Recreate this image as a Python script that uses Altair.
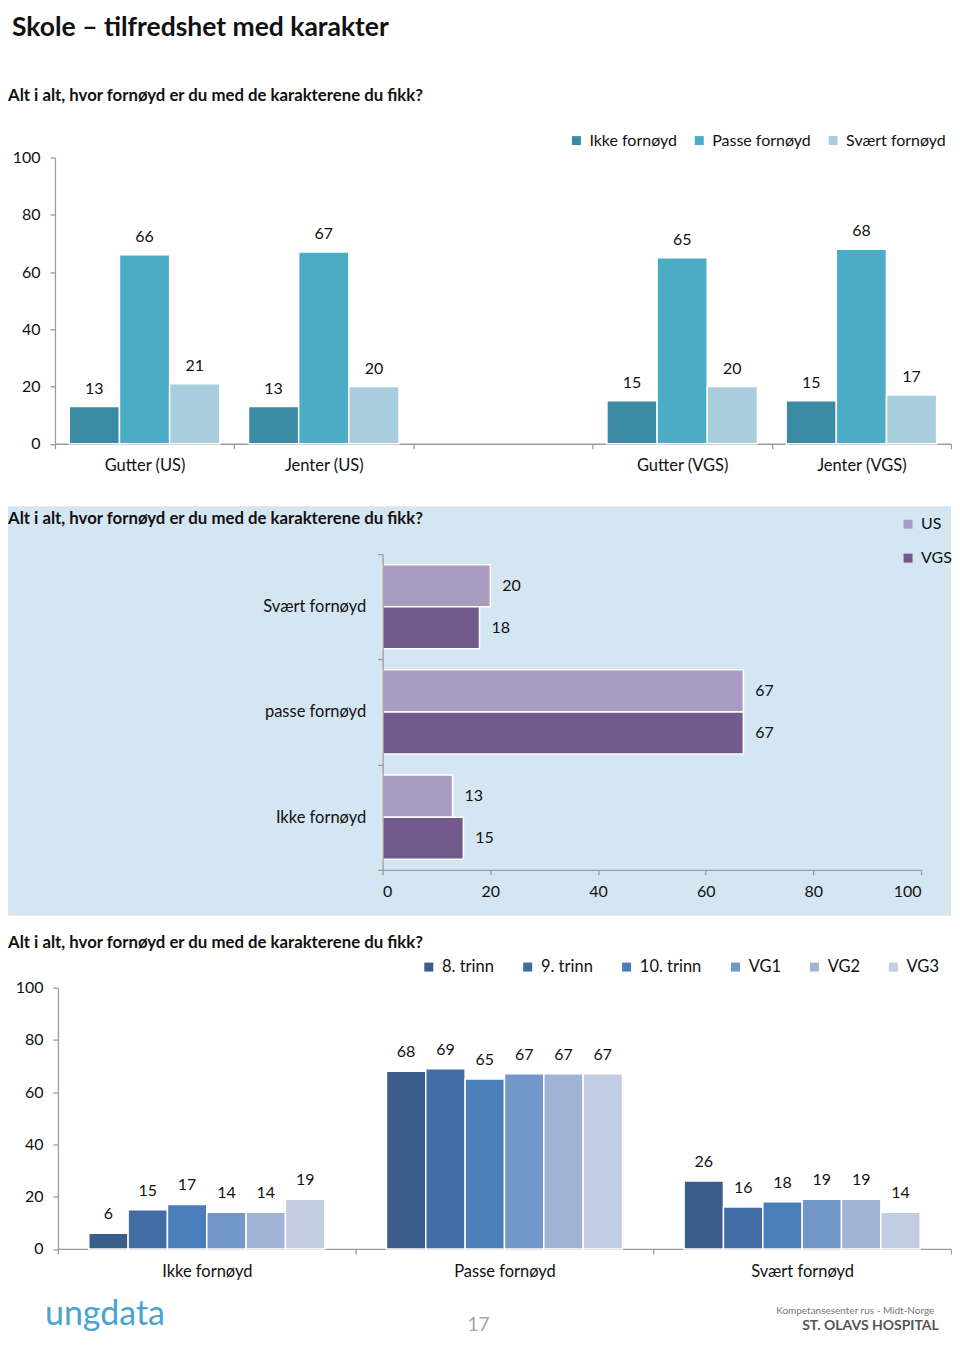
import altair as alt
import pandas as pd

FONT = "Lato"
GRAY = "#9C9C9C"
TXT = "#111111"

# ---------------- data ----------------
title_text = "Skole – tilfredshet med karakter"
question = "Alt i alt, hvor fornøyd er du med de karakterene du fikk?"
page_no = "17"

c1_groups = ["Gutter (US)", "Jenter (US)", "", "Gutter (VGS)", "Jenter (VGS)"]
c1_series = ["Ikke fornøyd", "Passe fornøyd", "Svært fornøyd"]
c1_ikke = [13, 13, None, 15, 15]
c1_passe = [66, 67, None, 65, 68]
c1_svaert = [21, 20, None, 20, 17]
c1_colors = ["#3B8BA5", "#4BACC6", "#A8CEDD"]

c2_cats = ["Svært fornøyd", "passe fornøyd", "Ikke fornøyd"]
c2_series = ["US", "VGS"]
c2_us = [20, 67, 13]
c2_vgs = [18, 67, 15]
c2_colors = ["#A89BBF", "#735A8D"]

c3_cats = ["Ikke fornøyd", "Passe fornøyd", "Svært fornøyd"]
c3_series = ["8. trinn", "9. trinn", "10. trinn", "VG1", "VG2", "VG3"]
c3_ikke = [6, 15, 17, 14, 14, 19]
c3_passe = [68, 69, 65, 67, 67, 67]
c3_svaert = [26, 16, 18, 19, 19, 14]
c3_colors = ["#3B5D8A", "#416DA4", "#4A7EBB", "#7497CA", "#A0B3D5", "#C2CCE3"]

ticks100 = [0, 20, 40, 60, 80, 100]

# ---------------- tables ----------------
rows1 = []
for i, g in enumerate(c1_groups):
    for s, vals in zip(c1_series, [c1_ikke, c1_passe, c1_svaert]):
        if vals[i] is not None:
            rows1.append({"group": g, "series": s, "value": vals[i]})
df1 = pd.DataFrame(rows1)

rows2 = []
for i, c in enumerate(c2_cats):
    for s, vals in zip(c2_series, [c2_us, c2_vgs]):
        rows2.append({"cat": c, "series": s, "value": vals[i]})
df2 = pd.DataFrame(rows2)

rows3 = []
for c, vals in zip(c3_cats, [c3_ikke, c3_passe, c3_svaert]):
    for s, v in zip(c3_series, vals):
        rows3.append({"cat": c, "series": s, "value": v})
df3 = pd.DataFrame(rows3)


def label(text, x, y, size=16.5, bold=False, color=TXT, align="left", baseline="middle"):
    return alt.Chart(pd.DataFrame({"t": [text]})).mark_text(
        align=align, baseline=baseline, fontSize=size,
        fontWeight="bold" if bold else "normal", color=color, font=FONT
    ).encode(text="t:N", x=alt.value(x), y=alt.value(y))


W = 897

# ---------------- chart 1 ----------------
H1 = 286.5
step1 = W / len(c1_groups)
pad1 = 0.08 * step1
x1 = alt.X("group:N", scale=alt.Scale(domain=c1_groups, paddingInner=0, paddingOuter=0),
           axis=alt.Axis(title=None, labelAngle=0, tickBand="extent", tickSize=5,
                         labelPadding=9, labelFontSize=16.5))
xo1 = alt.XOffset("series:N", scale=alt.Scale(domain=c1_series, paddingInner=0, paddingOuter=0,
                                              range=[pad1, step1 - pad1]))
y1 = alt.Y("value:Q", scale=alt.Scale(domain=[0, 100]),
           axis=alt.Axis(title=None, values=ticks100, grid=False, tickSize=5,
                         labelPadding=10, labelFontSize=16))
col1 = alt.Color("series:N", scale=alt.Scale(domain=c1_series, range=c1_colors),
                 legend=alt.Legend(title=None, orient="none", legendX=514, legendY=-25,
                                   direction="horizontal", columnPadding=14, labelFontSize=16))
base1 = alt.Chart(df1).encode(x=x1, xOffset=xo1, y=y1)
bars1 = base1.mark_bar(stroke="white", strokeWidth=1.5).encode(color=col1)
text1 = base1.mark_text(dy=-18, baseline="middle", fontSize=16, color=TXT).encode(text="value:Q")
# transparent frame marking the top edge of the page area
top_edge = alt.Chart(pd.DataFrame({"a": [0]})).mark_rect(opacity=0).encode(
    x=alt.value(-47), x2=alt.value(-40), y=alt.value(-148.5), y2=alt.value(-140))
c1 = alt.layer(
    top_edge, bars1, text1,
    label(title_text, -43, -143, size=26.5, bold=True, baseline="top"),
    label(question, -47, -61.5, size=16.8, bold=True),
).properties(width=W, height=H1)

# ---------------- chart 2 ----------------
H2 = 316
step2 = H2 / len(c2_cats)
pad2 = 0.1 * step2
y2 = alt.Y("cat:N", scale=alt.Scale(domain=c2_cats, paddingInner=0, paddingOuter=0),
           axis=alt.Axis(title=None, tickBand="extent", tickSize=5, labelPadding=12,
                         labelFontSize=16.5, offset=-328, zindex=1))
yo2 = alt.YOffset("series:N", scale=alt.Scale(domain=c2_series, paddingInner=0, paddingOuter=0,
                                              range=[pad2, step2 - pad2]))
x2 = alt.X("value:Q", scale=alt.Scale(domain=[0, 100], range=[328, 867]),
           axis=alt.Axis(title=None, values=ticks100, grid=False, tickSize=5,
                         labelPadding=9, labelFontSize=16, zindex=1))
col2 = alt.Color("series:N", scale=alt.Scale(domain=c2_series, range=c2_colors),
                 legend=alt.Legend(title=None, orient="none", legendX=846, legendY=-38,
                                   direction="vertical", rowPadding=18, labelFontSize=16))
bg2 = alt.Chart(pd.DataFrame({"a": [0]})).mark_rect(color="#D5E6F3").encode(
    x=alt.value(-47), x2=alt.value(W), y=alt.value(-48), y2=alt.value(362))
base2 = alt.Chart(df2).encode(y=y2, yOffset=yo2, x=x2)
bars2 = base2.mark_bar(stroke="white", strokeWidth=1.5).encode(color=col2)
text2 = base2.mark_text(dx=12, align="left", baseline="middle", fontSize=16, color=TXT).encode(text="value:Q")
c2 = alt.layer(
    bg2, bars2, text2,
    label(question, -47, -35, size=16.8, bold=True),
).properties(width=W, height=H2)

# ---------------- chart 3 ----------------
H3 = 269.5
step3 = (W - 3) / len(c3_cats)
pad3 = 0.1035 * step3
x3 = alt.X("cat:N", scale=alt.Scale(domain=c3_cats, paddingInner=0, paddingOuter=0, range=[3, W]),
           axis=alt.Axis(title=None, labelAngle=0, tickBand="extent", tickSize=5,
                         labelPadding=10, labelFontSize=16.5))
xo3 = alt.XOffset("series:N", scale=alt.Scale(domain=c3_series, paddingInner=0, paddingOuter=0,
                                              range=[pad3, step3 - pad3]))
y3 = alt.Y("value:Q", scale=alt.Scale(domain=[0, 100], range=[H3, 8]),
           axis=alt.Axis(title=None, values=ticks100, grid=False, tickSize=5,
                         labelPadding=10, labelFontSize=16, offset=-3))
col3 = alt.Color("series:N", scale=alt.Scale(domain=c3_series, range=c3_colors),
                 legend=alt.Legend(title=None, orient="none", legendX=366, legendY=-21,
                                   direction="horizontal", columnPadding=25))
base3 = alt.Chart(df3).encode(x=x3, xOffset=xo3, y=y3)
bars3 = base3.mark_bar(stroke="white", strokeWidth=1.5).encode(color=col3)
text3 = base3.mark_text(dy=-19, baseline="middle", fontSize=16, color=TXT).encode(text="value:Q")
c3 = alt.layer(
    bars3, text3,
    label(question, -47, -37, size=16.8, bold=True),
    label("ungdata", -10, 346, size=34, color="#4AA3CF", baseline="alphabetic"),
    label(page_no, 424, 346, size=19, color="#A6A6A6", align="center"),
    label("Kompetansesenter rus - Midt-Norge", 722, 332, size=10, color="#777777"),
    label("ST. OLAVS HOSPITAL", 748, 347, size=14, bold=True, color="#555555"),
).properties(width=W, height=H3)

chart = alt.vconcat(c1, c2, c3, spacing=110, bounds="flush").resolve_scale(
    color="independent", xOffset="independent", yOffset="independent"
).configure(
    font=FONT, padding=0, background="white"
).configure_view(stroke=None).configure_axis(
    domainColor=GRAY, tickColor=GRAY, labelColor=TXT, labelFont=FONT,
    domainWidth=1.3, tickWidth=1.3
).configure_legend(
    labelFont=FONT, labelFontSize=16.5, labelColor=TXT, symbolType="square",
    symbolSize=81, symbolStrokeWidth=0, padding=0, labelOffset=5
)

chart.save("out.html", embed_options={"renderer": "svg", "actions": False})
